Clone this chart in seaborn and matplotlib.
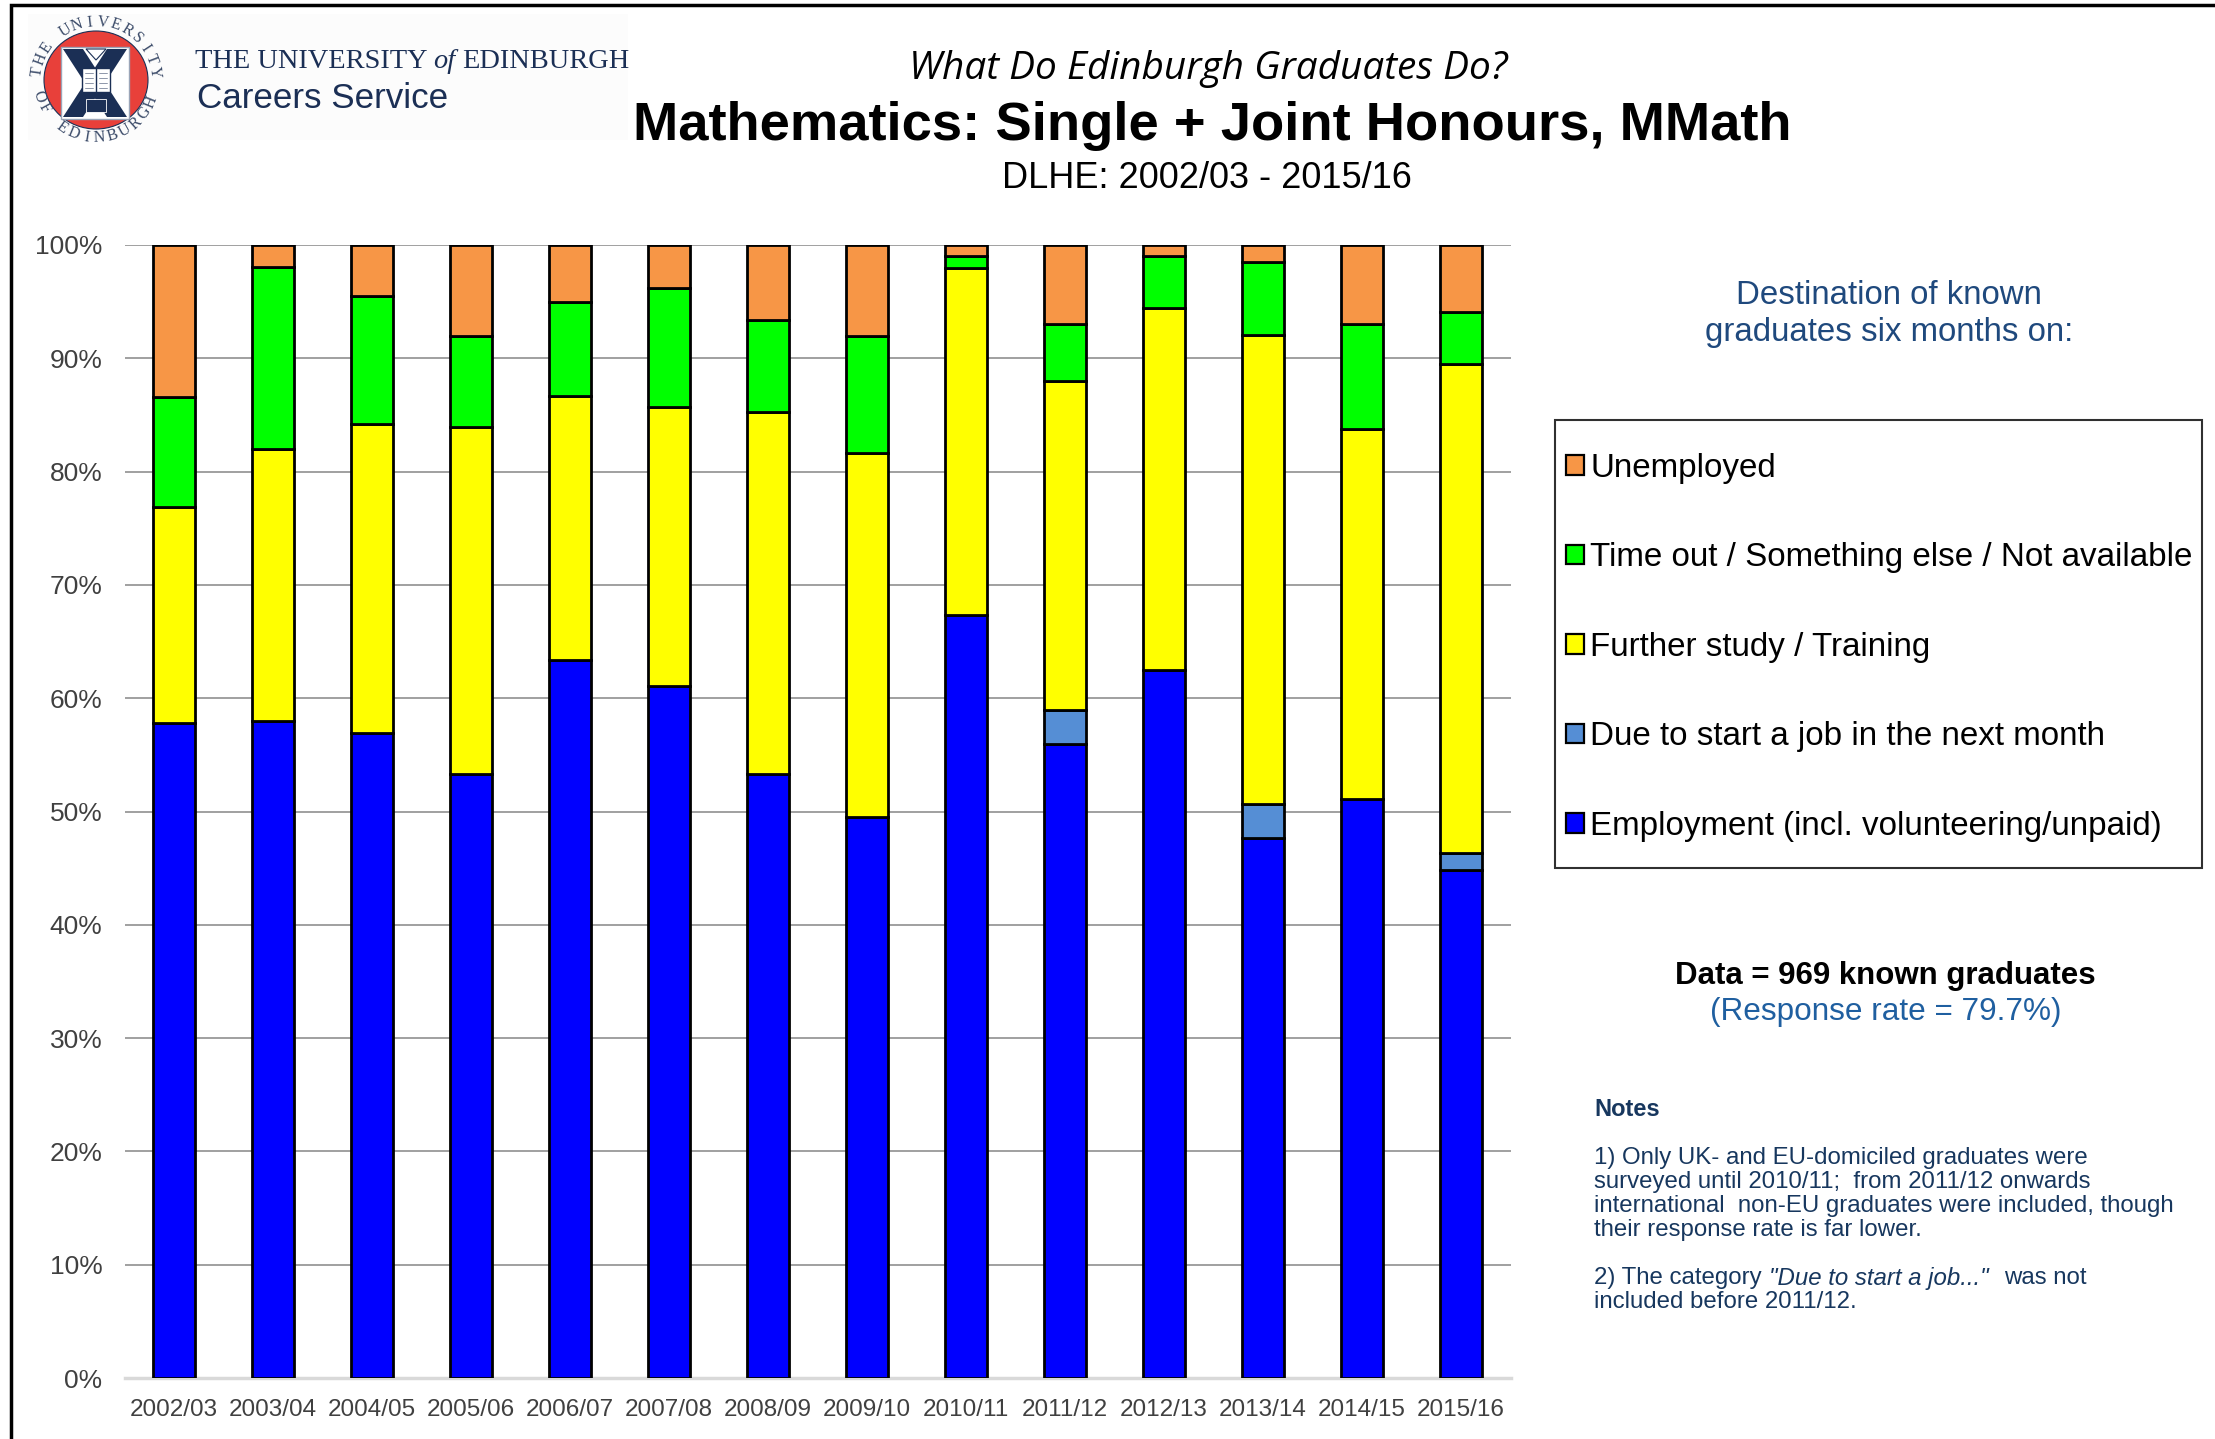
import numpy as np
import pandas as pd
import seaborn as sns
import matplotlib
matplotlib.use("Agg")
import matplotlib.pyplot as plt
from matplotlib.patches import Ellipse, Patch, Polygon, Rectangle

W, H = 2215, 1439

years = ['2002/03', '2003/04', '2004/05', '2005/06', '2006/07', '2007/08', '2008/09',
         '2009/10', '2010/11', '2011/12', '2012/13', '2013/14', '2014/15', '2015/16']
employment = [57.8, 58.0, 56.9, 53.3, 63.4, 61.1, 53.3, 49.5, 67.3, 56.0, 62.5, 47.7, 51.1, 44.8]
due_to_start = [0, 0, 0, 0, 0, 0, 0, 0, 0, 3.0, 0, 3.0, 0, 1.5]
further_study = [19.1, 24.0, 27.3, 30.6, 23.3, 24.6, 32.0, 32.1, 30.7, 29.0, 31.9, 41.4, 32.7, 43.2]
time_out = [9.7, 16.1, 11.3, 8.1, 8.3, 10.5, 8.1, 10.4, 1.0, 5.0, 4.6, 6.4, 9.2, 4.6]
unemployed = [13.4, 1.9, 4.5, 8.0, 5.0, 3.8, 6.6, 8.0, 1.0, 7.0, 1.0, 1.5, 7.0, 5.9]

series = [('Employment (incl. volunteering/unpaid)', employment, '#0000FF'),
          ('Due to start a job in the next month', due_to_start, '#558ED5'),
          ('Further study / Training', further_study, '#FFFF00'),
          ('Time out / Something else / Not available', time_out, '#00FF00'),
          ('Unemployed', unemployed, '#F79646')]

sns.set_style("white")
plt.rcParams['font.family'] = ['Liberation Sans', 'DejaVu Sans']

fig = plt.figure(figsize=(W / 100, H / 100), dpi=100, facecolor='white')

# слой в пикселях для рамки, логотипа и подписей
over = fig.add_axes([0, 0, 1, 1])
over.set_xlim(0, W)
over.set_ylim(H, 0)
over.axis('off')

# рамка слайда
over.plot([11, 11, W], [H, 5, 5], color='black', lw=2.5, solid_joinstyle='miter')

# логотип
over.add_patch(Rectangle((28, 14), 600, 126, fc='#FCFCFC', ec='none'))
navy = '#1B2F55'
over.add_patch(Ellipse((96, 80), 104, 98, fc='#E8403A', ec=navy, lw=0.8))
over.add_patch(Rectangle((61, 47), 68, 72, fc='white', ec='#9AA5B8', lw=1))
clip = Rectangle((63, 49), 64, 68, transform=over.transData)
for pts in ([(63, 49), (83, 49), (127, 117), (107, 117)], [(127, 49), (107, 49), (63, 117), (83, 117)]):
    arm = Polygon(pts, fc=navy, ec='none')
    over.add_patch(arm)
    arm.set_clip_path(clip)
# книга и замок на щите
over.add_patch(Rectangle((82, 68), 28, 24, fc='white', ec=navy, lw=1))
over.plot([96, 96], [68, 92], color=navy, lw=1)
for y in (73, 78, 83, 88):
    over.plot([85, 93], [y, y], color='#7C879C', lw=0.6)
    over.plot([99, 107], [y, y], color='#7C879C', lw=0.6)
over.add_patch(Rectangle((86, 99), 20, 13, fc=navy, ec='white', lw=0.6))
over.add_patch(Polygon([(86, 49), (106, 49), (96, 60)], fc='white', ec=navy, lw=0.8))


def ring_text(s, start, end, bottom=False):
    """Буквы печати по окружности"""
    for ch, a in zip(s, np.linspace(start, end, len(s))):
        t = np.radians(a)
        rot = a - 90 if not bottom else a + 90
        over.text(96 + 59 * np.cos(t), 80 + 58 * np.sin(t) * -1, ch, fontsize=11.5,
                  family='Liberation Serif', color='#3A4A68', ha='center', va='center', rotation=rot)


ring_text('THE UNIVERSITY', 172, 8)
ring_text('OF EDINBURGH', 196, 338, bottom=True)

over.text(195, 62, 'THE UNIVERSITY', family='Liberation Serif', fontsize=20.4, color=navy, va='center')
over.text(433, 62, 'of', family='Liberation Serif', style='italic', fontsize=20.4, color=navy, va='center')
over.text(462, 62, 'EDINBURGH', family='Liberation Serif', fontsize=20.4, color=navy, va='center')
over.text(197, 99, 'Careers Service', fontsize=25.2, color=navy, va='center')

# заголовки
over.text(1208, 69, 'What Do Edinburgh Graduates Do?', family='Open Sans', style='italic',
          fontsize=27.9, color='black', ha='center', va='center')
over.text(1212, 126, 'Mathematics: Single + Joint Honours, MMath', fontsize=39.2, weight='bold',
          color='black', ha='center', va='center')
over.text(1207, 179, 'DLHE: 2002/03 - 2015/16', fontsize=26, color='black', ha='center', va='center')

# правая колонка
blue_text = '#1F497D'
over.text(1889, 296, 'Destination of known', fontsize=23.8, color=blue_text, ha='center', va='center')
over.text(1889, 333, 'graduates six months on:', fontsize=23.8, color=blue_text, ha='center', va='center')
over.add_patch(Rectangle((1555, 420), 647, 448, fc='white', ec='#303030', lw=1.5))
over.text(1885, 976, 'Data = 969 known graduates', fontsize=22.5, weight='bold', color='black',
          ha='center', va='center')
over.text(1886, 1012, '(Response rate = 79.7%)', fontsize=22.7, color='#1F5FA0', ha='center', va='center')

notes_color = '#17375E'
over.text(1594, 1110, 'Notes', fontsize=17, weight='bold', color=notes_color, va='center')
note_lines = [(1158, '1) Only UK- and EU-domiciled graduates were'),
              (1182, 'surveyed until 2010/11;  from 2011/12 onwards'),
              (1206, 'international  non-EU graduates were included, though'),
              (1230, 'their response rate is far lower.'),
              (1302, 'included before 2011/12.')]
for y, line in note_lines:
    over.text(1594, y, line, fontsize=17.3, color=notes_color, va='center')
over.text(1594, 1278, '2) The category', fontsize=17.3, color=notes_color, va='center')
over.text(1769, 1278, '"Due to start a job..."', fontsize=17.3, style='italic', color=notes_color, va='center')
over.text(2004, 1278, 'was not', fontsize=17.3, color=notes_color, va='center')

# график
ax = fig.add_axes([124.5 / W, 1 - 1378 / H, 1386 / W, (1378 - 245) / H])
ax.patch.set_alpha(0)

bottom = np.zeros(len(years))
for name, values, color in series:
    df = pd.DataFrame({'year': years, 'share': values})
    sns.barplot(data=df, x='year', y='share', color=color, saturation=1, width=0.42,
                bottom=bottom, edgecolor='black', linewidth=2.0, ax=ax, zorder=3)
    bottom = bottom + np.array(values)

ax.set_xlim(-0.5, 13.5)
ax.set_ylim(0, 100)
ax.set_yticks(range(0, 101, 10))
ax.set_yticklabels([f'{v}%' for v in range(0, 101, 10)], fontsize=19, color='#404040')
ax.tick_params(axis='x', labelsize=17.5, labelcolor='#404040', length=0, pad=15)
ax.tick_params(axis='y', length=0, pad=16)
ax.set_xlabel('')
ax.set_ylabel('')
ax.grid(axis='y', color='#868686', lw=1.1)
ax.set_axisbelow(True)
sns.despine(ax=ax, left=True, top=True, right=True)
ax.spines['bottom'].set_color('#D9D9D9')
ax.spines['bottom'].set_linewidth(2.5)

handles = [Patch(facecolor=color, edgecolor='black', linewidth=1.6, label=name) for name, _, color in series[::-1]]
over.legend(handles=handles, loc='upper left', bbox_to_anchor=(1556 / W, 1 - 443 / H),
            bbox_transform=fig.transFigure, frameon=False, fontsize=23.9, labelcolor='black',
            handlelength=0.53, handleheight=0.53, handletextpad=0.2, labelspacing=1.76,
            borderaxespad=0, borderpad=0.3)

plt.savefig('out.png', dpi=100)
